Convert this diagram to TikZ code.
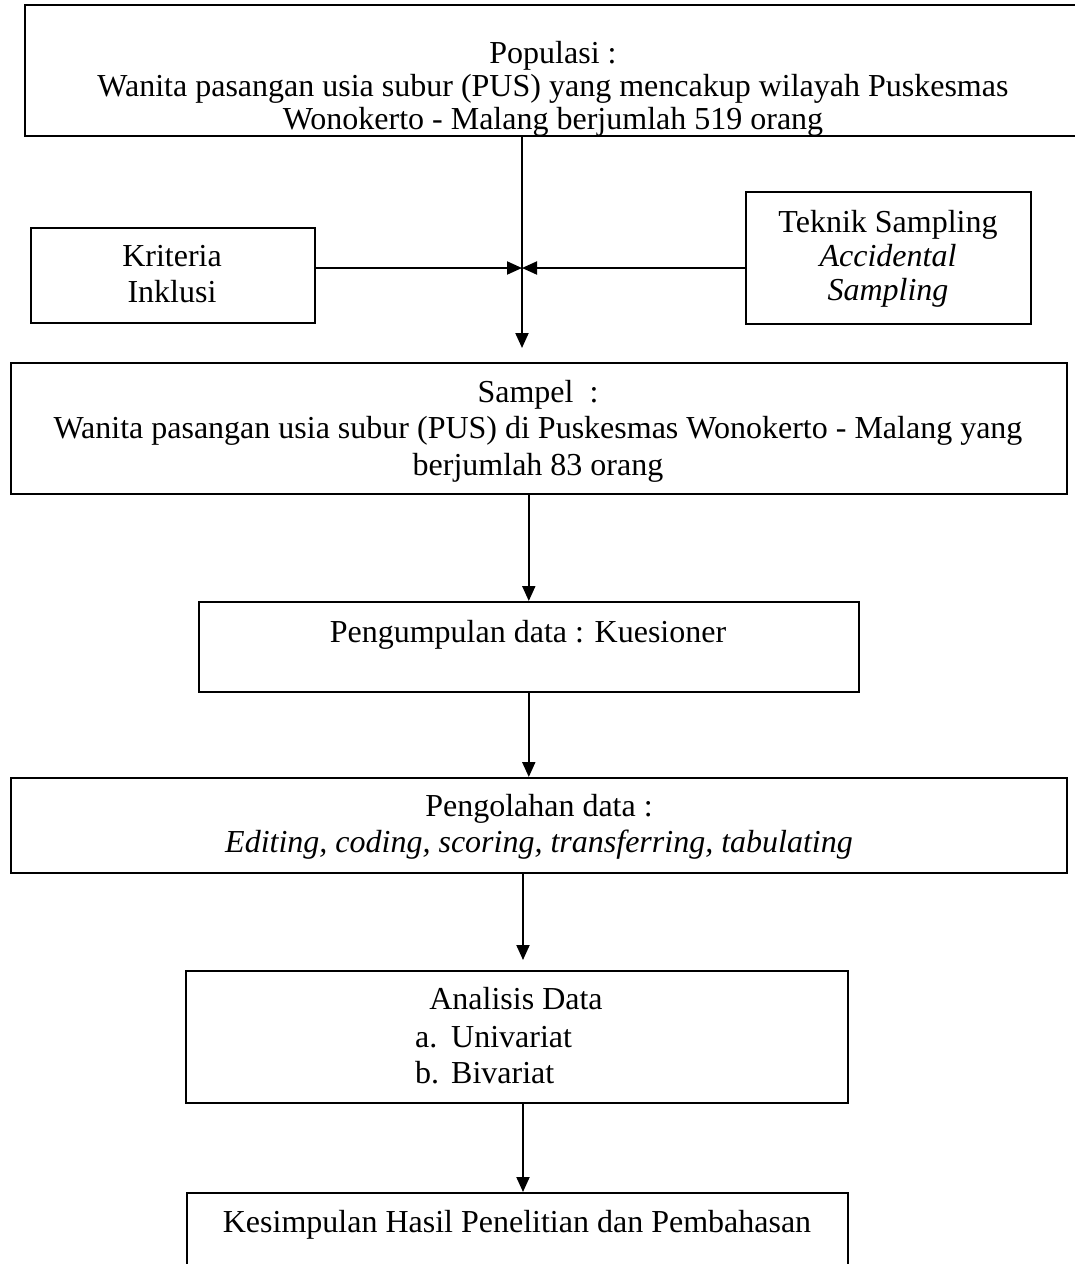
\documentclass[tikz,border=0pt]{standalone}
\usepackage{fontspec}
\setmainfont{Liberation Serif}
\usetikzlibrary{arrows.meta}
\begin{document}
\begin{tikzpicture}[x=1pt,y=-1pt,
  box/.style={draw, line width=1.6pt, inner sep=0pt, anchor=north west},
  txt/.style={inner sep=0pt, align=center, anchor=north, font=\fontsize{32}{36.5}\selectfont},
  arr/.style={line width=2pt, -{Triangle[length=15pt,width=13pt]}}]
\useasboundingbox (0,0) rectangle (1075,1264);
% boxes
\node[box, minimum width=1058pt, minimum height=131pt] (pop) at (24,4) {};
\node[box, minimum width=284pt, minimum height=95pt] (krit) at (30,227) {};
\node[box, minimum width=285pt, minimum height=132pt] (tek) at (745,191) {};
\node[box, minimum width=1056pt, minimum height=131pt] (samp) at (10,362) {};
\node[box, minimum width=660pt, minimum height=90pt] (peng) at (198,601) {};
\node[box, minimum width=1056pt, minimum height=95pt] (olah) at (10,777) {};
\node[box, minimum width=662pt, minimum height=132pt] (anal) at (185,970) {};
\node[box, minimum width=661pt, minimum height=80pt] (kes) at (186,1192) {};
% texts
\node[txt, font=\fontsize{32}{33}\selectfont] (popT) at (553,39.9) {\strut Populasi :\\\strut Wanita pasangan usia subur (PUS) yang mencakup wilayah Puskesmas\\\strut Wonokerto - Malang berjumlah 519 orang};
\node[txt] (kritT) at (172,240.45) {\strut Kriteria\\\strut Inklusi};
\node[txt, font=\fontsize{32}{34}\selectfont] (tekT) at (888,208.2) {\strut Teknik Sampling\\\strut\itshape Accidental\\\strut\itshape Sampling};
\node[txt] (sampT) at (538,376.45) {\strut Sampel \ :\\\strut Wanita pasangan usia subur (PUS) di Puskesmas Wonokerto - Malang yang\\\strut berjumlah 83 orang};
\node[txt] (pengT) at (528,616.45) {\strut Pengumpulan data : Kuesioner};
\node[txt] (olahT) at (539,790.45) {\strut Pengolahan data :\\\strut\itshape Editing, coding, scoring, transferring, tabulating};
\node[txt] (analT) at (516,983.45) {\strut Analisis Data};
\node[txt, anchor=north west, align=left] (analL) at (415,1021.45) {\strut\makebox[36pt][l]{a.}Univariat\\\strut\makebox[36pt][l]{b.}Bivariat};
\node[txt] (kesT) at (517,1206.45) {\strut Kesimpulan Hasil Penelitian dan Pembahasan};
% connectors
\coordinate (j) at (522,268);
\coordinate (jend) at (522,348);
\coordinate (a2) at (523,960);
\draw[arr] (pop.south -| j) -- (jend);
\draw[arr] (krit.east |- j) -- (j);
\draw[arr] (tek.west |- j) -- (j);
\draw[arr] (samp.south -| peng.north) -- (peng.north);
\draw[arr] (peng.south) -- (olah.north -| peng.south);
\draw[arr] (olah.south -| a2) -- (a2);
\draw[arr] (anal.south -| a2) -- (kes.north -| a2);
\end{tikzpicture}
\end{document}
